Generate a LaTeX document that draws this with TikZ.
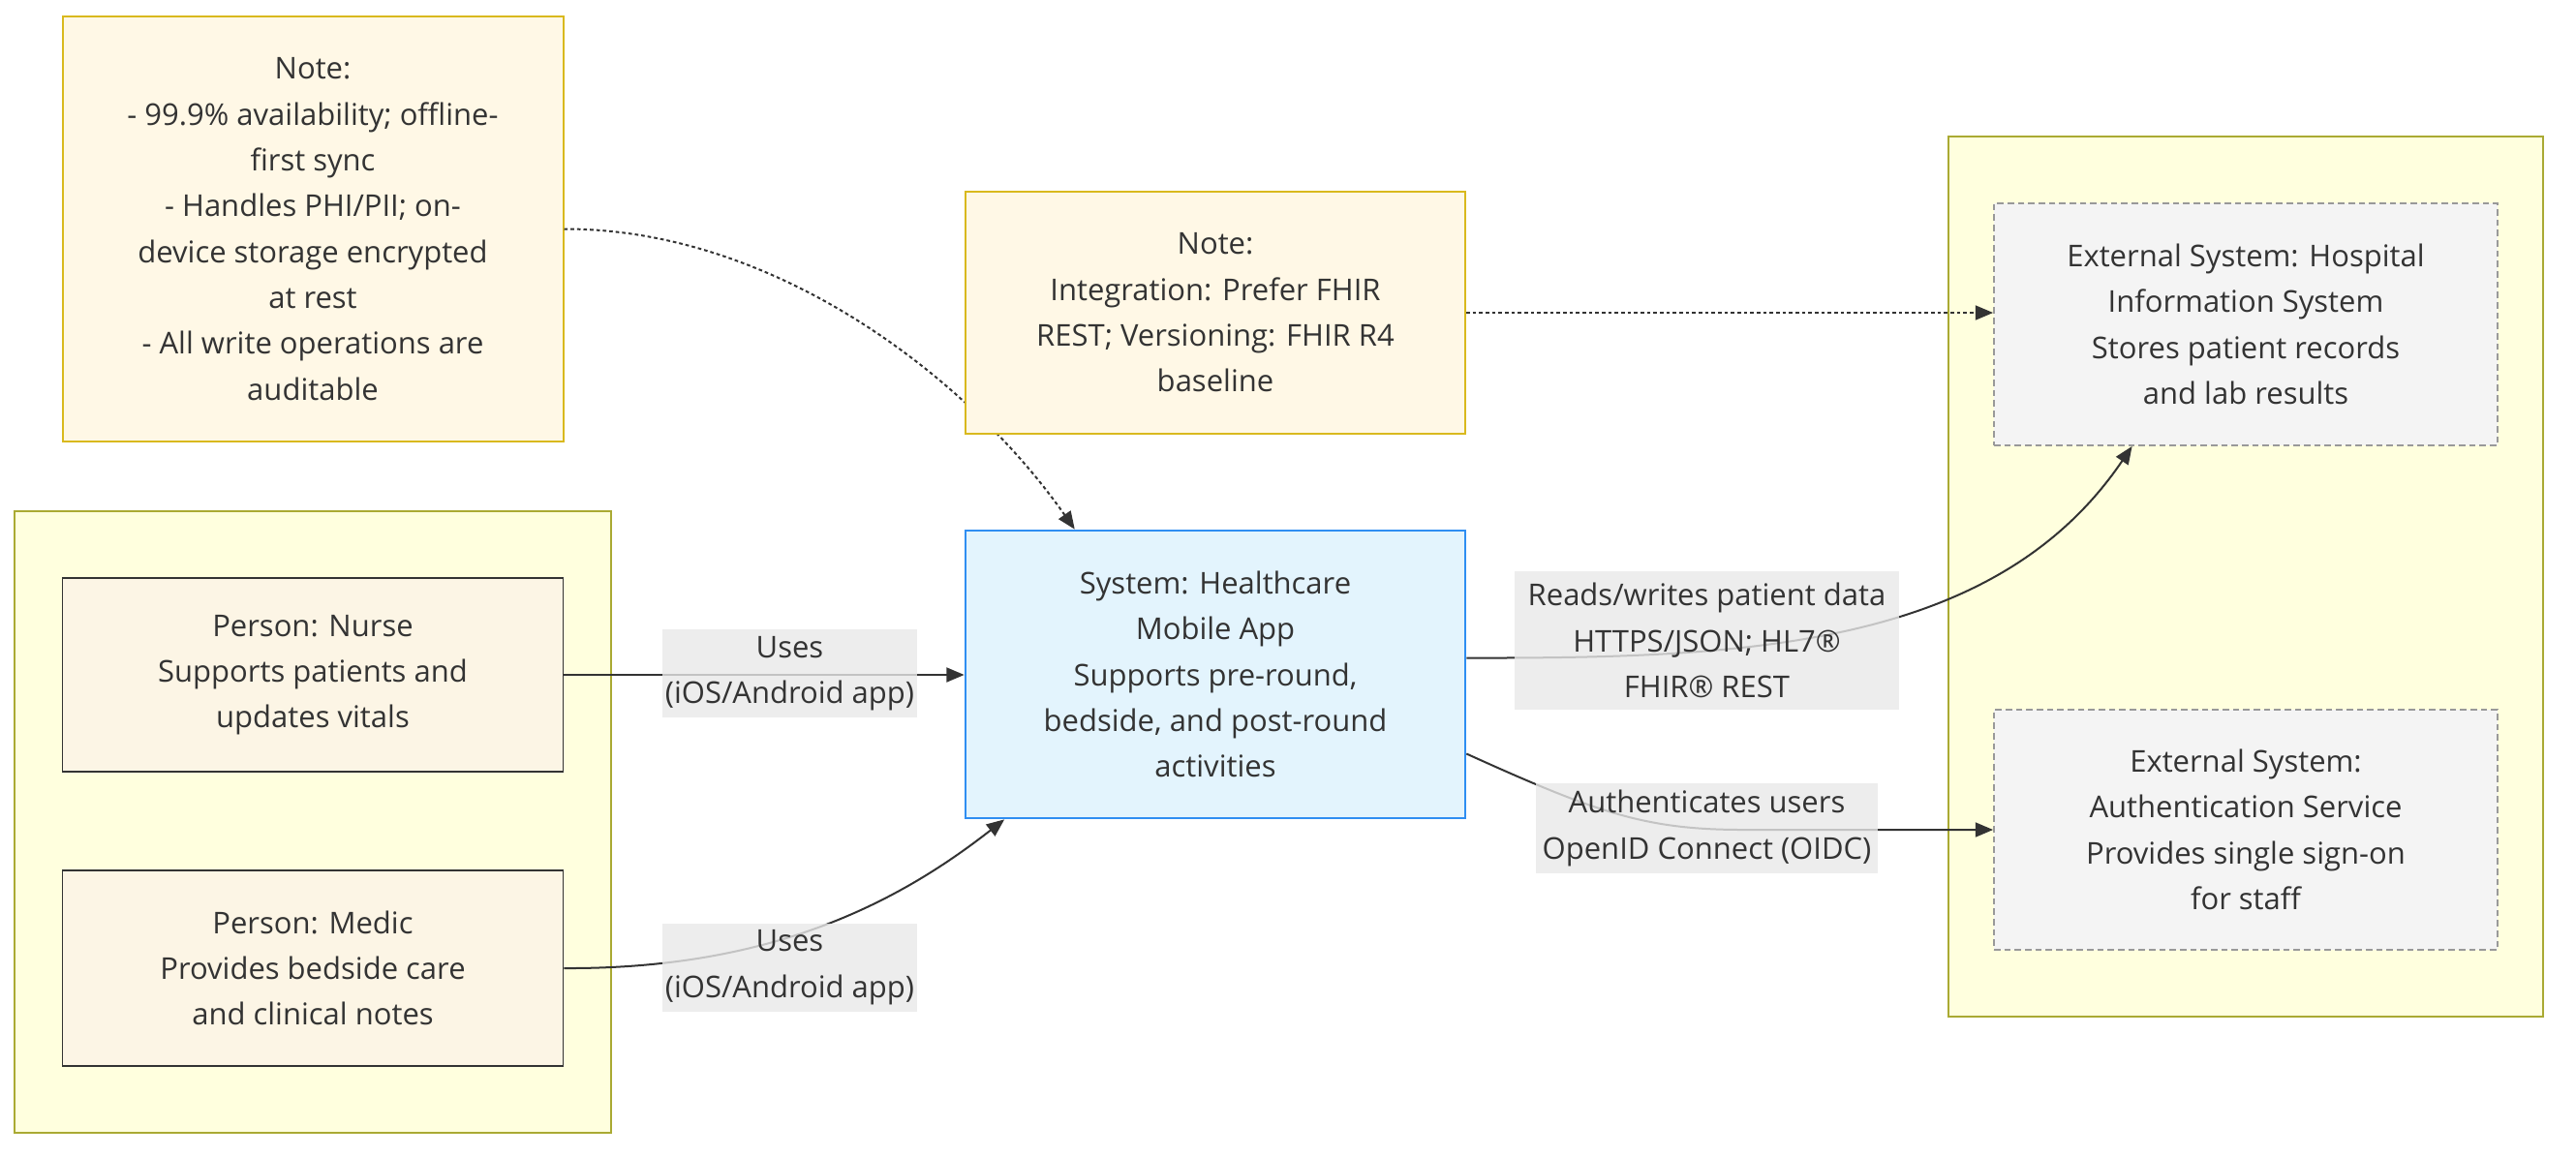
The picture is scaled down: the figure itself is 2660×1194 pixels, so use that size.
\documentclass[tikz,border=0pt]{standalone}
\usepackage{fontspec}
\setmainfont{Open Sans}
\usetikzlibrary{arrows.meta,calc}

\definecolor{notefill}{HTML}{FFF8E6}
\definecolor{noteline}{HTML}{D9B91E}
\definecolor{groupfill}{HTML}{FFFFDE}
\definecolor{groupline}{HTML}{AAAA33}
\definecolor{personfill}{HTML}{FCF5E5}
\definecolor{appfill}{HTML}{E3F4FD}
\definecolor{appline}{HTML}{2F8EF2}
\definecolor{extfill}{HTML}{F4F4F4}
\definecolor{extline}{HTML}{999999}
\definecolor{labelfill}{HTML}{E8E8E8}
\definecolor{ink}{HTML}{333333}

\tikzset{
    every node/.style={font=\fontsize{9.3}{14.2}\selectfont, text=ink, align=center, inner sep=0pt},
    group/.style={draw=groupline, fill=groupfill, line width=0.6pt},
    note/.style={draw=noteline, fill=notefill, line width=0.6pt},
    person/.style={draw=ink, fill=personfill, line width=0.5pt},
    sysbox/.style={draw=appline, fill=appfill, line width=0.8pt},
    extbox/.style={draw=extline, fill=extfill, line width=0.55pt, dash pattern=on 2pt off 1.2pt},
    elabel/.style={fill=labelfill, fill opacity=0.8, text opacity=1},
    link/.style={draw=ink, line width=0.6pt, -{Triangle[length=5.5pt,width=4.5pt]}},
    notelink/.style={link, dash pattern=on 1.1pt off 0.9pt}
}

\begin{document}
\begin{tikzpicture}[x=0.3pt, y=-0.3pt]
    \useasboundingbox (0,0) rectangle (2660,1194);

    % boundaries
    \node[group, minimum width=184.8pt, minimum height=192.6pt] (staff) at (323,849) {};
    \node[group, minimum width=184.2pt, minimum height=272.7pt] (external) at (2319,595.5) {};

    % notes, people, systems
    \node[note, minimum width=155.1pt, minimum height=131.7pt] (note1) at (323,236.5)
        {Note:\\- 99.9\% availability; offline-\\first sync\\- Handles PHI/PII; on-\\device storage encrypted\\at rest\\- All write operations are\\auditable};
    \node[person, minimum width=155.1pt, minimum height=60pt] (nurse) at (323,697)
        {Person: Nurse\\Supports patients and\\updates vitals};
    \node[person, minimum width=155.1pt, minimum height=60.6pt] (medic) at (323,1000)
        {Person: Medic\\Provides bedside care\\and clinical notes};
    \node[sysbox, minimum width=154.8pt, minimum height=89.1pt] (app) at (1255,696.5)
        {System: Healthcare\\Mobile App\\Supports pre-round,\\bedside, and post-round\\activities};
    \node[extbox, minimum width=156pt, minimum height=75pt] (his) at (2319,335)
        {External System: Hospital\\Information System\\Stores patient records\\and lab results};
    \node[extbox, minimum width=156pt, minimum height=74.4pt] (auth) at (2319,857)
        {External System:\\Authentication Service\\Provides single sign-on\\for staff};

    \draw[notelink] (note1.east) .. controls (800,236) and (1000,390) .. ($(app.north west)!0.22!(app.north east)$);

    \node[note, minimum width=154.8pt, minimum height=75pt] (note2) at (1255,323)
        {Note:\\Integration: Prefer FHIR\\REST; Versioning: FHIR R4\\baseline};

    % connectors
    \draw[notelink] (note2.east) -- (note2.east -| his.west);
    \draw[link] (nurse.east) -- (nurse.east -| app.west);
    \draw[link] (medic.east) .. controls (800,1001) and (930,930) .. ($(app.south west)!0.08!(app.south east)$);
    \draw[link] ($(app.east)+(0,-17)$) .. controls (1800,680) and (2060,670) .. ($(his.south west)!0.275!(his.south east)$);
    \draw[link] ($(app.east)+(0,82)$) .. controls (1650,840) and (1700,857) .. (1800,857) -- (auth.west);

    % edge labels
    \node[elabel, minimum width=78.9pt, minimum height=27.3pt] (uses1) at (815.5,695.5) {Uses\\(iOS/Android app)};
    \node[elabel, minimum width=78.9pt, minimum height=27.3pt] (uses2) at (815.5,999) {Uses\\(iOS/Android app)};
    \node[elabel, minimum width=119.1pt, minimum height=42.9pt] (rw) at (1762.5,661.5) {Reads/writes patient data\\HTTPS/JSON; HL7®\\FHIR® REST};
    \node[elabel, minimum width=105.9pt, minimum height=27.9pt] (authl) at (1762.5,855.5) {Authenticates users\\OpenID Connect (OIDC)};
\end{tikzpicture}
\end{document}
